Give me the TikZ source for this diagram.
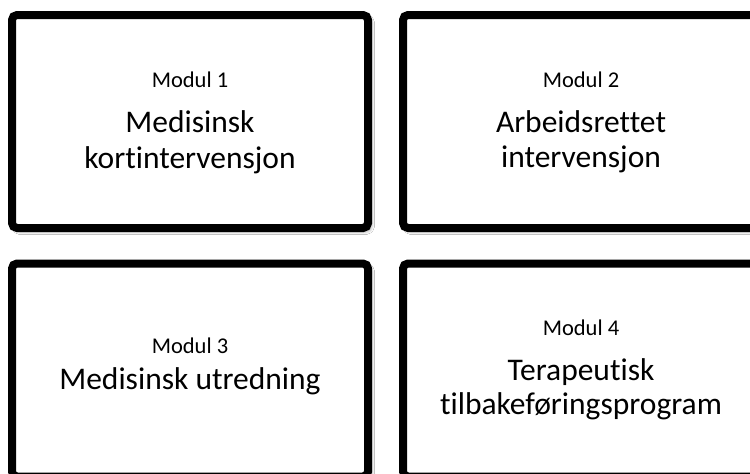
\documentclass[tikz,border=0pt]{standalone}
\usepackage{fontspec}
\setmainfont{Carlito}[Ligatures=NoCommon]
\usetikzlibrary{shadows.blur}
\tikzset{
  modbox/.style={draw=black, line width=8pt, rounded corners=5pt, fill=white,
    minimum width=356pt, minimum height=213pt, inner sep=0pt,
    blur shadow={shadow xshift=3pt, shadow yshift=-3pt, shadow blur radius=3.5pt, shadow opacity=45}},
  smalltxt/.style={font=\fontsize{22.5}{26}\selectfont, inner sep=0pt, anchor=base},
  bigtxt/.style={font=\fontsize{31.5}{36}\selectfont, inner sep=0pt, anchor=base},
}
\begin{document}
\begin{tikzpicture}[x=1pt,y=-1pt]
\useasboundingbox (0,0) rectangle (750,474);
\clip (0,0) rectangle (750,474);
\fill[white] (0,0) rectangle (750,474);
\node[modbox] (m1) at (190,121.5) {};
\node[modbox] (m2) at (581,121.5) {};
\node[modbox] (m3) at (190,370) {};
\node[modbox] (m4) at (581,370) {};

\node[smalltxt] (m1a) at (190,87) {Modul 1};
\node[bigtxt] (m1b) at (190,132) {Medisinsk};
\node[bigtxt] (m1c) at (190,168) {kortintervensjon};

\node[smalltxt] (m2a) at (581,87) {Modul 2};
\node[bigtxt] (m2b) at (581,132) {Arbeidsrettet};
\node[bigtxt] (m2c) at (581,167) {intervensjon};

\node[smalltxt] (m3a) at (190,353) {Modul 3};
\node[bigtxt] (m3b) at (190,389) {Medisinsk utredning};

\node[smalltxt] (m4a) at (581,335) {Modul 4};
\node[bigtxt] (m4b) at (581,380) {Terapeutisk};
\node[bigtxt] (m4c) at (581,414) {tilbakeføringsprogram};
\end{tikzpicture}
\end{document}
